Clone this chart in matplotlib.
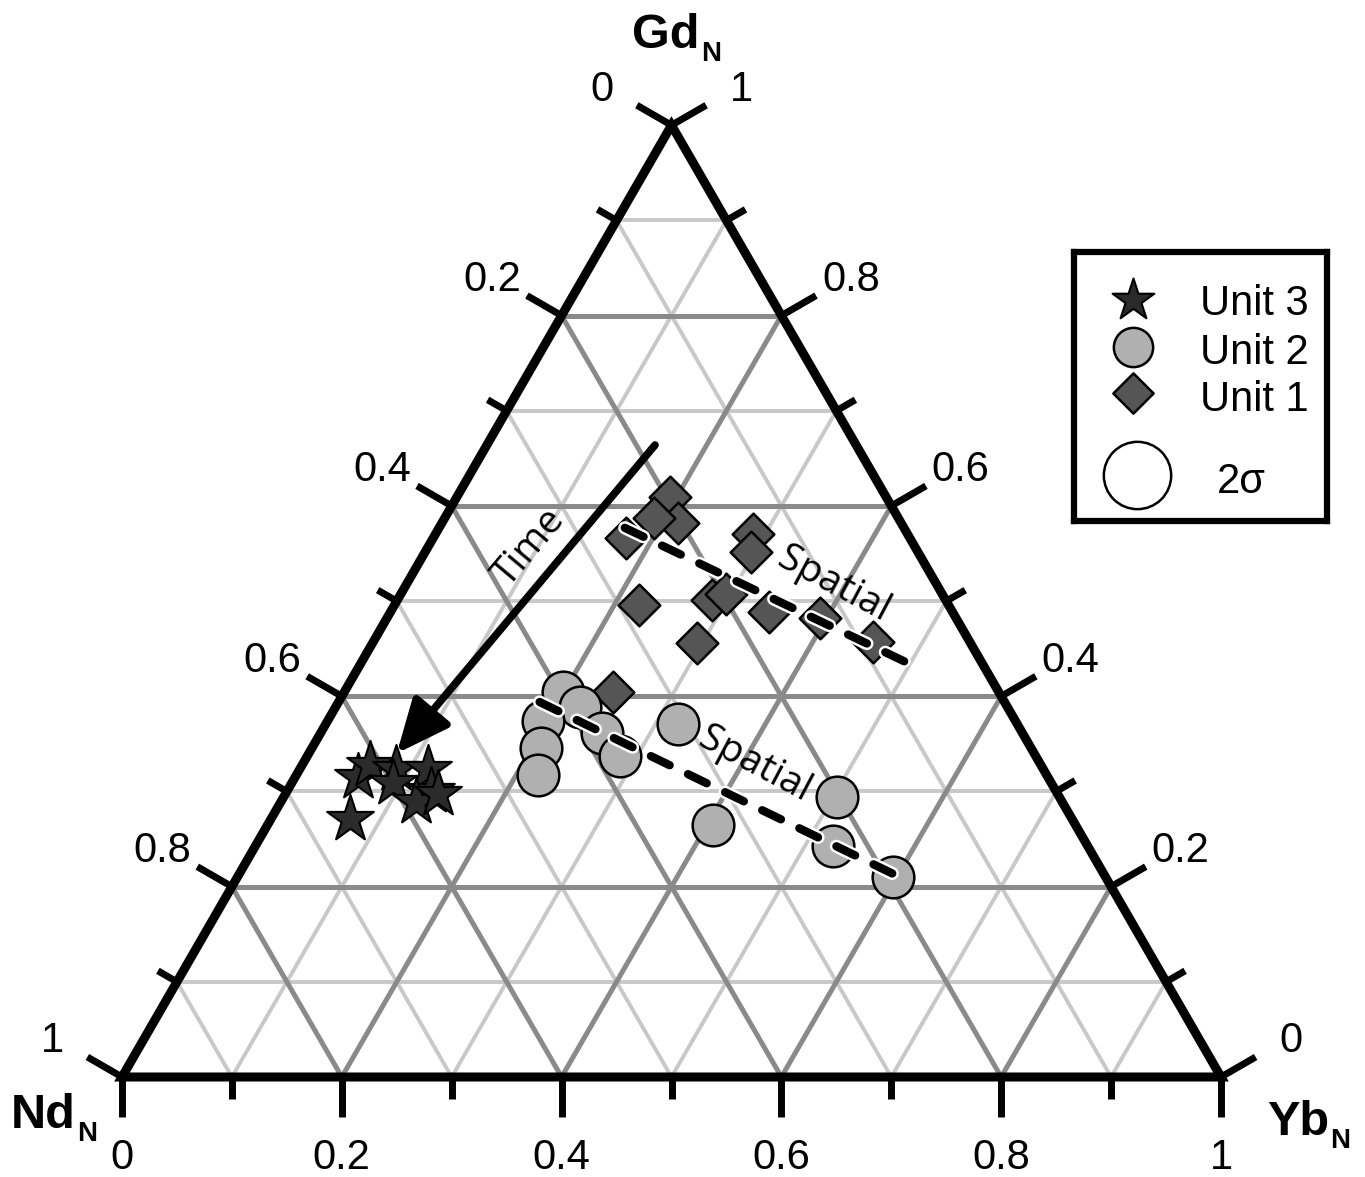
import numpy as np
import matplotlib
matplotlib.use("Agg")
import matplotlib.pyplot as plt
from matplotlib import patheffects as pe
from matplotlib.patches import Polygon

plt.rcParams['font.family'] = ['Liberation Sans', 'DejaVu Sans']

# compositions as fractions; Nd_N = 1 - Yb_N - Gd_N
unit3_yb = [0.057, 0.062, 0.087, 0.092, 0.116, 0.131, 0.123, 0.139, 0.072]
unit3_gd = [0.315, 0.328, 0.324, 0.309, 0.324, 0.301, 0.289, 0.297, 0.271]

unit2_yb = [0.199, 0.222, 0.196, 0.208, 0.220, 0.256, 0.285, 0.320, 0.405, 0.504, 0.525, 0.597]
unit2_gd = [0.404, 0.389, 0.374, 0.346, 0.317, 0.361, 0.337, 0.371, 0.265, 0.294, 0.243, 0.210]

unit1_yb = [0.194, 0.215, 0.191, 0.176, 0.289, 0.296, 0.222, 0.286, 0.296, 0.344, 0.295, 0.394, 0.455, 0.245]
unit1_gd = [0.609, 0.582, 0.587, 0.566, 0.570, 0.552, 0.496, 0.501, 0.507, 0.489, 0.456, 0.482, 0.457, 0.404]

# trend lines (start, end)
spatial1_yb = [0.169, 0.509]
spatial1_gd = [0.577, 0.430]
spatial2_yb = [0.183, 0.605]
spatial2_gd = [0.394, 0.209]
time_yb = [0.153, 0.080]
time_gd = [0.664, 0.340]

tick_vals = [round(i / 10, 1) for i in range(11)]

W, H = 1365, 1177
SIDE = 1099
X0, Y0 = 122, 1077
S3 = np.sqrt(3) / 2


def tern(yb, gd):
    yb = np.asarray(yb, float)
    gd = np.asarray(gd, float)
    return yb + gd / 2, gd * S3


def px(x, y):
    return (x - X0) / SIDE, (Y0 - y) / SIDE


fig = plt.figure(figsize=(W / 100, H / 100), dpi=100)
ax = fig.add_axes([0, 0, 1, 1])
xmin, ymax = px(0, 0)
xmax, ymin = px(W, H)
ax.set_xlim(xmin, xmax)
ax.set_ylim(ymin, ymax)
ax.axis('off')

# grid
for t in tick_vals[1:-1]:
    major = round(t * 10) % 2 == 0
    kw = dict(color='#8a8a8a' if major else '#c8c8c8',
              lw=3.6 if major else 2.8, zorder=2 if major else 1,
              solid_capstyle='butt')
    ax.plot(*tern([0, 1 - t], [t, t]), **kw)
    ax.plot(*tern([t, t], [0, 1 - t]), **kw)
    ax.plot(*tern([1 - t, 0], [0, 1 - t]), **kw)

# outline
bx, by = tern([0, 1, 0], [0, 0, 1])
ax.add_patch(Polygon(np.column_stack([bx, by]), closed=True, fill=False,
                     ec='black', lw=6.5, joinstyle='miter', zorder=4))

# ticks and tick labels
tk = dict(color='black', lw=5, solid_capstyle='butt', zorder=4)
off = 0.073
for v in tick_vals:
    major = round(v * 10) % 2 == 0
    L = 0.0364 if major else 0.020
    # bottom: Yb
    x, y = tern(v, 0)
    ax.plot([x, x], [y, y - L], **tk)
    # left: Nd
    lx, ly = tern(0, 1 - v)
    ax.plot([lx, lx - S3 * L], [ly, ly + 0.5 * L], **tk)
    # right: Gd
    rx, ry = tern(1 - v, v)
    ax.plot([rx, rx + S3 * L], [ry, ry + 0.5 * L], **tk)
    if major:
        lab = f'{v:g}'
        ax.text(x, y - 0.070, lab, fontsize=30, ha='center', va='center_baseline')
        ax.text(lx - S3 * off, ly + 0.5 * off, lab, fontsize=30,
                ha='center', va='center_baseline')
        ax.text(rx + S3 * off, ry + 0.5 * off, lab, fontsize=30,
                ha='center', va='center_baseline')

# data
ax.scatter(*tern(unit1_yb, unit1_gd), marker='D', s=450, c='#555555',
           edgecolors='black', linewidths=1.8, zorder=6)
ax.scatter(*tern(unit2_yb, unit2_gd), marker='o', s=900, c='#b0b0b0',
           edgecolors='black', linewidths=1.8, zorder=7)
ax.scatter(*tern(unit3_yb, unit3_gd), marker='*', s=1250, c='#2b2b2b',
           edgecolors='black', linewidths=1.5, zorder=8)

# spatial trends
for yb, gd in [(spatial1_yb, spatial1_gd), (spatial2_yb, spatial2_gd)]:
    ax.plot(*tern(yb, gd), color='black', lw=6, linestyle=(0, (2.5, 2.45)),
            dash_capstyle='round', zorder=9,
            path_effects=[pe.withStroke(linewidth=9.5, foreground='white')])

# time arrow
tx, ty = tern(time_yb, time_gd)
ax.annotate('', xy=(tx[1], ty[1]), xytext=(tx[0], ty[0]),
            arrowprops=dict(arrowstyle='-|>,head_length=0.36,head_width=0.16',
                            mutation_scale=90, lw=5.5, color='black',
                            shrinkA=0, shrinkB=0),
            zorder=10)

ax.text(*px(530, 548), 'Time', family='Open Sans', fontsize=28, rotation=50,
        rotation_mode='anchor', ha='center', va='center', zorder=10)
ax.text(*px(834, 585), 'Spatial', family='Open Sans', fontsize=28, rotation=-28,
        rotation_mode='anchor', ha='center', va='center', zorder=10)
ax.text(*px(755, 765), 'Spatial', family='Open Sans', fontsize=28, rotation=-28,
        rotation_mode='anchor', ha='center', va='center', zorder=10)

# axis titles
for name, (x, y) in [('Gd', (632, 48)), ('Nd', (11, 1128)), ('Yb', (1267, 1135))]:
    t = fig.text(x / W, 1 - y / H, name, fontsize=35, fontweight='bold',
                 ha='left', va='baseline')
    ax.annotate('N', xy=(1, 0), xycoords=t, xytext=(1, -2),
                textcoords='offset points', fontsize=20, fontweight='bold',
                ha='left', va='baseline')

# legend box
lax = fig.add_axes([1074 / W, 1 - 521 / H, 253 / W, 269 / H])
lax.set_xlim(0, 1)
lax.set_ylim(0, 1)
lax.set_xticks([])
lax.set_yticks([])
for sp in lax.spines.values():
    sp.set_linewidth(4.5)

lax.scatter([0.233], [0.822], marker='*', s=1000, c='#2b2b2b',
            edgecolors='black', linewidths=1.5)
lax.scatter([0.233], [0.647], marker='o', s=800, c='#b0b0b0',
            edgecolors='black', linewidths=1.8)
lax.scatter([0.233], [0.476], marker='D', s=420, c='#555555',
            edgecolors='black', linewidths=1.8)
lax.scatter([0.249], [0.171], marker='o', s=2350, c='white',
            edgecolors='black', linewidths=1.8)
for lab, y in [('Unit 3', 0.822), ('Unit 2', 0.643), ('Unit 1', 0.468)]:
    lax.text(0.498, y, lab, fontsize=30, ha='left', va='center_baseline')
lax.text(0.565, 0.160, '2σ', fontsize=30, ha='left', va='center_baseline')

fig.savefig('out.png', dpi=100)
